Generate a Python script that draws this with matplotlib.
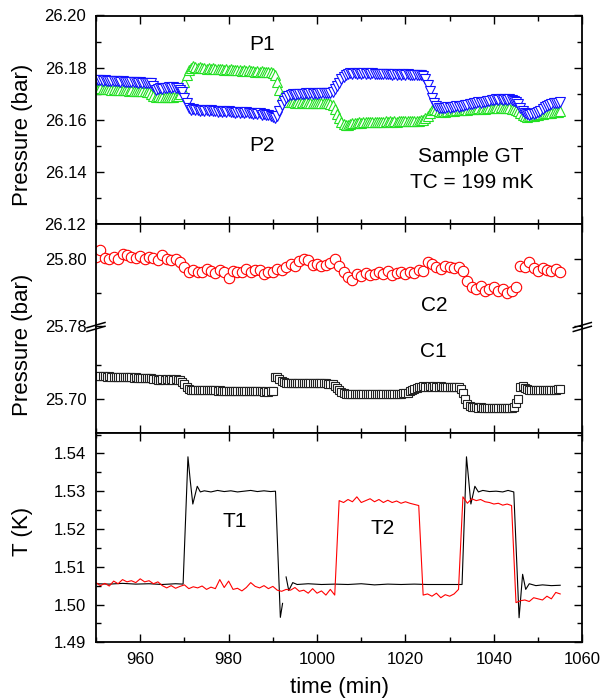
import numpy as np
import matplotlib
matplotlib.use("Agg")
import matplotlib.pyplot as plt
from matplotlib.ticker import MultipleLocator, FixedLocator

plt.rcParams['font.family'] = ['Liberation Sans', 'DejaVu Sans']

# ---------------- data ----------------
t_min = list(range(950, 1056))               # one reading per minute (C2, T2)
t_half = list(np.arange(950.0, 1055.25, 0.5))  # one reading per half minute (P1, P2, C1)

P1 = [26.1721, 26.1719, 26.1720, 26.1718, 26.1719, 26.1717, 26.1718, 26.1716, 26.1717, 26.1715,
      26.1716, 26.1714, 26.1715, 26.1713, 26.1714, 26.1712, 26.1713, 26.1711, 26.1712, 26.1710,
      26.1711, 26.1709, 26.1710, 26.1708, 26.1705, 26.1698, 26.1692, 26.1689, 26.1690, 26.1688,
      26.1689, 26.1687, 26.1688, 26.1686, 26.1688, 26.1687, 26.1690, 26.1693, 26.1700, 26.1720,
      26.1745, 26.1770, 26.1790, 26.1800, 26.1805, 26.1802, 26.1799, 26.1801, 26.1797, 26.1799,
      26.1796, 26.1798, 26.1795, 26.1797, 26.1794, 26.1796, 26.1793, 26.1795, 26.1792, 26.1794,
      26.1791, 26.1793, 26.1790, 26.1792, 26.1789, 26.1791, 26.1788, 26.1790, 26.1787, 26.1789,
      26.1786, 26.1788, 26.1785, 26.1787, 26.1784, 26.1786, 26.1783, 26.1785, 26.1782, 26.1783,
      26.1780, 26.1770, 26.1745, 26.1715, 26.1690, 26.1678, 26.1671, 26.1668, 26.1667, 26.1668,
      26.1666, 26.1668, 26.1666, 26.1667, 26.1665, 26.1667, 26.1665, 26.1666, 26.1664, 26.1666,
      26.1664, 26.1665, 26.1663, 26.1665, 26.1663, 26.1664, 26.1662, 26.1655, 26.1640, 26.1622,
      26.1605, 26.1592, 26.1585, 26.1581, 26.1580, 26.1584, 26.1587, 26.1589, 26.1588, 26.1590,
      26.1589, 26.1591, 26.1590, 26.1592, 26.1590, 26.1592, 26.1591, 26.1593, 26.1591, 26.1593,
      26.1592, 26.1594, 26.1592, 26.1594, 26.1593, 26.1595, 26.1593, 26.1595, 26.1594, 26.1596,
      26.1594, 26.1596, 26.1595, 26.1597, 26.1595, 26.1597, 26.1596, 26.1598, 26.1600, 26.1605,
      26.1613, 26.1625, 26.1636, 26.1640, 26.1636, 26.1632, 26.1630, 26.1632, 26.1631, 26.1634,
      26.1633, 26.1636, 26.1634, 26.1637, 26.1636, 26.1639, 26.1637, 26.1640, 26.1639, 26.1642,
      26.1640, 26.1643, 26.1641, 26.1644, 26.1642, 26.1645, 26.1643, 26.1646, 26.1644, 26.1647,
      26.1645, 26.1648, 26.1646, 26.1648, 26.1645, 26.1647, 26.1644, 26.1646, 26.1643, 26.1641,
      26.1638, 26.1632, 26.1625, 26.1618, 26.1614, 26.1612, 26.1613, 26.1615, 26.1614, 26.1617,
      26.1620, 26.1623, 26.1622, 26.1625, 26.1624, 26.1627, 26.1626, 26.1629, 26.1628, 26.1631,
      26.1632]

P2 = [26.1753, 26.1751, 26.1752, 26.1750, 26.1751, 26.1749, 26.1750, 26.1748, 26.1749, 26.1747,
      26.1748, 26.1746, 26.1747, 26.1745, 26.1746, 26.1744, 26.1745, 26.1743, 26.1744, 26.1742,
      26.1743, 26.1741, 26.1742, 26.1740, 26.1742, 26.1741, 26.1728, 26.1716, 26.1718, 26.1720,
      26.1719, 26.1722, 26.1721, 26.1724, 26.1723, 26.1725, 26.1722, 26.1720, 26.1716, 26.1705,
      26.1685, 26.1665, 26.1645, 26.1637, 26.1640, 26.1636, 26.1639, 26.1635, 26.1638, 26.1634,
      26.1637, 26.1633, 26.1636, 26.1632, 26.1635, 26.1631, 26.1634, 26.1630, 26.1633, 26.1629,
      26.1632, 26.1628, 26.1631, 26.1627, 26.1630, 26.1626, 26.1629, 26.1625, 26.1628, 26.1624,
      26.1627, 26.1623, 26.1626, 26.1622, 26.1624, 26.1620, 26.1622, 26.1618, 26.1619, 26.1614,
      26.1610, 26.1606, 26.1615, 26.1635, 26.1655, 26.1672, 26.1685, 26.1692, 26.1695, 26.1697,
      26.1696, 26.1699, 26.1697, 26.1700, 26.1698, 26.1701, 26.1699, 26.1702, 26.1700, 26.1702,
      26.1700, 26.1703, 26.1701, 26.1703, 26.1701, 26.1704, 26.1702, 26.1708, 26.1718, 26.1730,
      26.1742, 26.1755, 26.1765, 26.1772, 26.1775, 26.1778, 26.1776, 26.1779, 26.1777, 26.1779,
      26.1777, 26.1779, 26.1776, 26.1778, 26.1776, 26.1778, 26.1775, 26.1777, 26.1775, 26.1777,
      26.1774, 26.1776, 26.1774, 26.1776, 26.1773, 26.1775, 26.1773, 26.1775, 26.1772, 26.1774,
      26.1772, 26.1774, 26.1771, 26.1773, 26.1771, 26.1773, 26.1770, 26.1772, 26.1768, 26.1755,
      26.1735, 26.1710, 26.1685, 26.1665, 26.1652, 26.1646, 26.1644, 26.1647, 26.1645, 26.1648,
      26.1646, 26.1650, 26.1648, 26.1652, 26.1650, 26.1654, 26.1653, 26.1657, 26.1656, 26.1660,
      26.1660, 26.1664, 26.1663, 26.1667, 26.1666, 26.1670, 26.1669, 26.1673, 26.1672, 26.1676,
      26.1675, 26.1678, 26.1676, 26.1679, 26.1677, 26.1679, 26.1676, 26.1678, 26.1675, 26.1673,
      26.1670, 26.1660, 26.1645, 26.1632, 26.1625, 26.1622, 26.1620, 26.1623, 26.1621, 26.1624,
      26.1628, 26.1635, 26.1642, 26.1648, 26.1652, 26.1656, 26.1660, 26.1663, 26.1665, 26.1666,
      26.1667]

C1 = [25.7068, 25.7067, 25.7068, 25.7067, 25.7067, 25.7066, 25.7067, 25.7066, 25.7066, 25.7065,
      25.7066, 25.7065, 25.7065, 25.7064, 25.7065, 25.7064, 25.7064, 25.7063, 25.7064, 25.7063,
      25.7063, 25.7062, 25.7063, 25.7062, 25.7062, 25.7061, 25.7060, 25.7058, 25.7056, 25.7057,
      25.7058, 25.7057, 25.7058, 25.7057, 25.7058, 25.7057, 25.7058, 25.7057, 25.7056, 25.7052,
      25.7045, 25.7037, 25.7031, 25.7028, 25.7027, 25.7028, 25.7027, 25.7027, 25.7026, 25.7027,
      25.7026, 25.7027, 25.7026, 25.7026, 25.7026, 25.7025, 25.7026, 25.7025, 25.7025, 25.7025,
      25.7025, 25.7025, 25.7024, 25.7025, 25.7024, 25.7024, 25.7024, 25.7024, 25.7023, 25.7024,
      25.7023, 25.7024, 25.7023, 25.7023, 25.7023, 25.7023, 25.7022, 25.7023, 25.7022, 25.7023,
      25.7024, 25.7066, 25.7064, 25.7060, 25.7055, 25.7050, 25.7048, 25.7048, 25.7049, 25.7048,
      25.7049, 25.7048, 25.7049, 25.7048, 25.7049, 25.7048, 25.7048, 25.7048, 25.7049, 25.7048,
      25.7048, 25.7047, 25.7048, 25.7047, 25.7047, 25.7046, 25.7046, 25.7044, 25.7040, 25.7034,
      25.7027, 25.7021, 25.7018, 25.7016, 25.7015, 25.7016, 25.7015, 25.7016, 25.7015, 25.7016,
      25.7015, 25.7016, 25.7015, 25.7016, 25.7016, 25.7016, 25.7015, 25.7016, 25.7016, 25.7016,
      25.7016, 25.7016, 25.7016, 25.7016, 25.7016, 25.7017, 25.7016, 25.7017, 25.7017, 25.7018,
      25.7018, 25.7020, 25.7023, 25.7027, 25.7031, 25.7034, 25.7036, 25.7037, 25.7038, 25.7037,
      25.7037, 25.7038, 25.7037, 25.7038, 25.7037, 25.7037, 25.7038, 25.7037, 25.7037, 25.7036,
      25.7037, 25.7036, 25.7036, 25.7035, 25.7035, 25.7030, 25.7020, 25.7000, 25.6986, 25.6980,
      25.6978, 25.6977, 25.6977, 25.6976, 25.6977, 25.6976, 25.6976, 25.6975, 25.6976, 25.6975,
      25.6975, 25.6975, 25.6976, 25.6975, 25.6975, 25.6974, 25.6975, 25.6975, 25.6976, 25.6978,
      25.6988, 25.7000, 25.7036, 25.7038, 25.7033, 25.7030, 25.7028, 25.7027, 25.7026, 25.7027,
      25.7026, 25.7027, 25.7026, 25.7027, 25.7027, 25.7028, 25.7027, 25.7028, 25.7028, 25.7029,
      25.7029]

C2 = [25.8005, 25.8025, 25.8003, 25.7998, 25.8005, 25.8000, 25.8015, 25.8012, 25.8005, 25.8002,
      25.8008, 25.7998, 25.8005, 25.8002, 25.7995, 25.8010, 25.7998, 25.7995, 25.8000, 25.7990,
      25.7975, 25.7962, 25.7968, 25.7960, 25.7962, 25.7970, 25.7965, 25.7958, 25.7968, 25.7962,
      25.7942, 25.7965, 25.7960, 25.7962, 25.7970, 25.7962, 25.7966, 25.7968, 25.7955, 25.7960,
      25.7962, 25.7970, 25.7968, 25.7975, 25.7985, 25.7980, 25.7992, 25.8000, 25.7995, 25.7982,
      25.7985, 25.7978, 25.7982, 25.7988, 25.8000, 25.7978, 25.7962, 25.7945, 25.7938, 25.7955,
      25.7950, 25.7958, 25.7952, 25.7955, 25.7962, 25.7955, 25.7965, 25.7952, 25.7958, 25.7960,
      25.7955, 25.7962, 25.7958, 25.7968, 25.7965, 25.7990, 25.7985, 25.7975, 25.7970, 25.7978,
      25.7975, 25.7972, 25.7975, 25.7965, 25.7935, 25.7915, 25.7910, 25.7918, 25.7905, 25.7912,
      25.7915, 25.7905, 25.7910, 25.7900, 25.7905, 25.7915, 25.7978, 25.7975, 25.7990, 25.7972,
      25.7965, 25.7972, 25.7968, 25.7965, 25.7970, 25.7962]

t_T1 = [950, 953, 956, 959, 962, 965, 968, 969.7, 970.8, 971.3, 971.9, 972.9, 973.6, 974.5,
        976, 977.5, 979, 980.5, 982, 983.5, 985, 986.5, 988, 989.5, 990.6, 991.7, 992.2,
        992.6, 993.0, 993.6, 994.5, 995.5, 998, 1001, 1004, 1007, 1010, 1013, 1016, 1019,
        1022, 1025, 1028, 1031, 1032.8, 1033.8, 1034.3, 1034.8, 1035.7, 1036.5, 1037.5,
        1039, 1040.5, 1042, 1043.2, 1044.5, 1045.7, 1046.5, 1047.2, 1048, 1049.5, 1051,
        1053, 1055]
T1 = [1.5055, 1.5054, 1.5056, 1.5054, 1.5055, 1.5053, 1.5055, 1.5054, 1.5391, 1.5330,
      1.5266, 1.5313, 1.5298, 1.5301, 1.5298, 1.5302, 1.5299, 1.5301, 1.5298, 1.5300,
      1.5302, 1.5299, 1.5301, 1.5299, 1.5300, 1.4966, 1.5003, np.nan, 1.5073, 1.5037,
      1.5058, 1.5053, 1.5055, 1.5053, 1.5054, 1.5053, 1.5055, 1.5052, 1.5054, 1.5053,
      1.5054, 1.5053, 1.5053, 1.5053, 1.5053, 1.5391, 1.5330, 1.5266, 1.5313, 1.5298,
      1.5302, 1.5299, 1.5300, 1.5298, 1.5302, 1.5298, 1.4965, 1.5080, 1.5040, 1.5055,
      1.5050, 1.5052, 1.5050, 1.5051]

T2 = [1.5058, 1.5050, 1.5056, 1.5049, 1.5062, 1.5055, 1.5066, 1.5060, 1.5063, 1.5058,
      1.5068, 1.5060, 1.5063, 1.5055, 1.5060, 1.5050, 1.5044, 1.5050, 1.5043, 1.5048,
      1.5052, 1.5042, 1.5047, 1.5044, 1.5049, 1.5040, 1.5046, 1.5042, 1.5066, 1.5045,
      1.5062, 1.5040, 1.5043, 1.5036, 1.5045, 1.5058, 1.5048, 1.5044, 1.5050, 1.5042,
      1.5048, 1.5038, 1.5035, 1.5040, 1.5038, 1.5045, 1.5035, 1.5038, 1.5030, 1.5042,
      1.5030, 1.5036, 1.5025, 1.5040, 1.5025, 1.5275, 1.5270, 1.5278, 1.5272, 1.5285,
      1.5270, 1.5275, 1.5280, 1.5272, 1.5278, 1.5270, 1.5276, 1.5270, 1.5274, 1.5268,
      1.5272, 1.5268, 1.5265, 1.5262, 1.5025, 1.5028, 1.5022, 1.5030, 1.5018, 1.5026,
      1.5022, 1.5028, 1.5040, 1.5285, 1.5268, 1.5280, 1.5275, 1.5278, 1.5272, 1.5270,
      1.5266, 1.5268, 1.5263, 1.5266, 1.5262, 1.5005, 1.5010, 1.5012, 1.5008, 1.5018,
      1.5015, 1.5012, 1.5022, 1.5015, 1.5032, 1.5028]

x_major = [960, 980, 1000, 1020, 1040, 1060]

# ---------------- figure ----------------
fig = plt.figure(figsize=(6.03, 7.0), dpi=100)
L, W = 96 / 603, 486.3 / 603

def fr(y_top, y_bot):
    return [L, 1 - y_bot / 700, W, (y_bot - y_top) / 700]

ax_top = fig.add_axes(fr(15.5, 224))
ax_mt = fig.add_axes(fr(224, 327))
ax_mb = fig.add_axes(fr(327, 433))
ax_bot = fig.add_axes(fr(433, 642.3))

green = '#22e022'
blue = '#1010ff'
ms_kw = dict(linestyle='none', mfc='white', mew=0.8)

ax_top.plot(t_half, P1, marker='^', mec=green, ms=7.4, **ms_kw)
ax_top.plot(t_half, P2, marker='v', mec=blue, ms=7.4, **ms_kw)
ax_mt.plot(t_min, C2, marker='o', mec='red', ms=7.5, **ms_kw)
ax_mb.plot(t_half, C1, marker='s', mec='#222222', ms=6.0, **ms_kw)
ax_bot.plot(t_T1, T1, color='black', lw=0.8)
ax_bot.plot(t_min, T2, color='red', lw=0.8)

ax_top.set_ylim(26.12, 26.20)
ax_mt.set_ylim(25.7798, 25.8103)
ax_mb.set_ylim(25.6902, 25.7211)
ax_bot.set_ylim(1.49, 1.5454)

for ax in (ax_top, ax_mt, ax_mb, ax_bot):
    ax.set_xlim(950, 1060)
    ax.xaxis.set_major_locator(FixedLocator(x_major))
    ax.xaxis.set_minor_locator(MultipleLocator(10))
    for s in ax.spines.values():
        s.set_linewidth(1.3)
    ax.tick_params(which='both', direction='in', left=True, right=True,
                   top=True, bottom=True, width=1.0, labelsize=12, pad=7)
    ax.tick_params(which='major', length=6)
    ax.tick_params(which='minor', length=3.5)
    if ax is not ax_bot:
        ax.tick_params(labelbottom=False)

ax_top.yaxis.set_major_locator(MultipleLocator(0.02))
ax_top.yaxis.set_minor_locator(MultipleLocator(0.01))
ax_top.yaxis.set_major_formatter(plt.FormatStrFormatter('%.2f'))

ax_mt.yaxis.set_major_locator(FixedLocator([25.78, 25.80]))
ax_mt.yaxis.set_minor_locator(FixedLocator([25.79]))
ax_mt.yaxis.set_major_formatter(plt.FormatStrFormatter('%.2f'))
ax_mt.spines['bottom'].set_visible(False)
ax_mt.tick_params(which='both', bottom=False)

ax_mb.yaxis.set_major_locator(FixedLocator([25.70]))
ax_mb.yaxis.set_minor_locator(FixedLocator([25.71]))
ax_mb.yaxis.set_major_formatter(plt.FormatStrFormatter('%.2f'))
ax_mb.spines['top'].set_visible(False)
ax_mb.tick_params(which='both', top=False)

ax_bot.yaxis.set_major_locator(MultipleLocator(0.01))
ax_bot.yaxis.set_minor_locator(MultipleLocator(0.005))
ax_bot.yaxis.set_major_formatter(plt.FormatStrFormatter('%.2f'))

# break marks on the middle panel
dx, dy, off = 9 / 486.3, 2.6 / 106, 1.9 / 106
for x0 in (0, 1):
    for o in (-off, off):
        ax_mb.plot([x0 - dx, x0 + dx], [1 - dy + o, 1 + dy + o], color='black',
                   lw=1.1, transform=ax_mb.transAxes, clip_on=False)

# annotations
tk = dict(fontsize=15, ha='center', va='center')
ax_top.text(987.5, 26.189, 'P1', **tk)
ax_top.text(987.5, 26.150, 'P2', **tk)
ax_top.text(1034.7, 26.1459, 'Sample GT', **tk)
ax_top.text(1035.0, 26.1358, 'TC = 199 mK', **tk)
ax_mt.text(1026.5, 25.7861, 'C2', **tk)
ax_mb.text(1026.3, 25.7139, 'C1', **tk)
ax_bot.text(981.3, 1.5219, 'T1', **tk)
ax_bot.text(1014.8, 1.5202, 'T2', **tk)

# axis labels
lab = dict(fontsize=16, rotation=90, ha='center', va='center')
fig.text(22.5 / 603, 1 - 135 / 700, 'Pressure (bar)', **lab)
fig.text(22.5 / 603, 1 - 345 / 700, 'Pressure (bar)', **lab)
fig.text(22.5 / 603, 1 - 531 / 700, 'T (K)', **lab)
fig.text(339 / 603, 1 - 688 / 700, 'time (min)', fontsize=16, ha='center', va='center')

fig.savefig('out.png', dpi=100)
